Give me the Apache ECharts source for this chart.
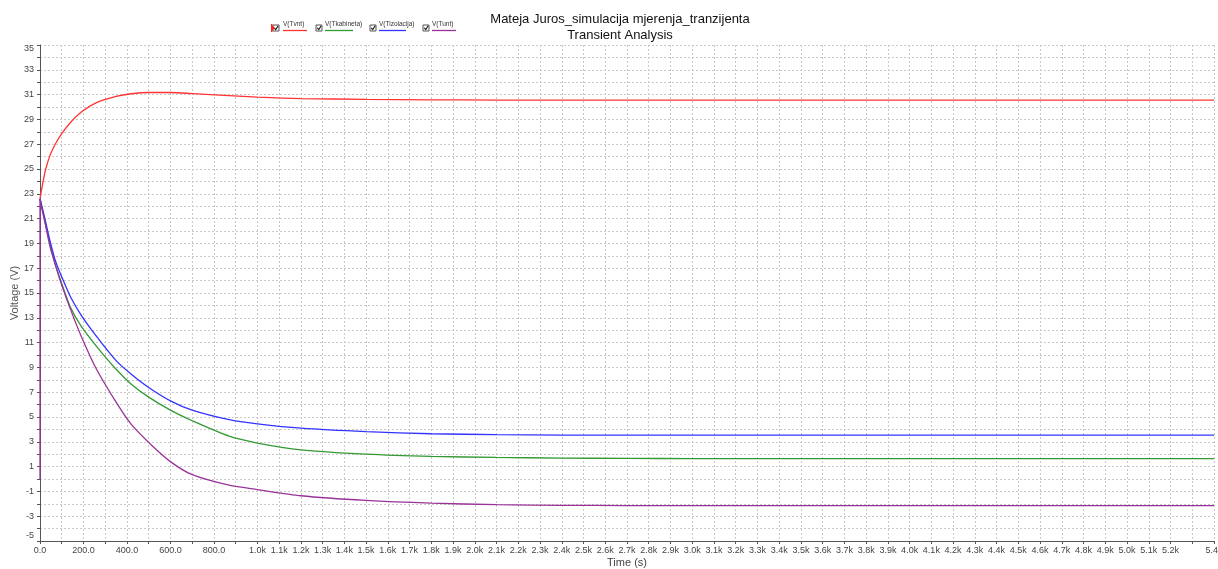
<!DOCTYPE html>
<html>
<head>
<meta charset="utf-8">
<script src="https://cdn.jsdelivr.net/npm/echarts@6/dist/echarts.min.js"></script>
<style>
  html, body { margin: 0; padding: 0; background: #fff; }
  #chart { width: 1218px; height: 569px; }
</style>
</head>
<body>
<div id="chart"></div>
<script>
// time points (s) and node voltages (V)
const time        = [0, 10, 25, 46, 70, 100, 140, 190, 260, 350, 420, 500, 600, 700, 870, 1000, 1200, 1500, 1800, 2100, 2400, 2700, 3000, 4000, 5400];
const vTvnt       = [22.6, 23.6, 24.9, 26.1, 27.0, 27.85, 28.75, 29.6, 30.35, 30.85, 31.07, 31.17, 31.17, 31.08, 30.92, 30.8, 30.68, 30.62, 30.58, 30.56, 30.55, 30.55, 30.55, 30.55, 30.55];
const vTkabineta  = [22.6, 21.8, 20.6, 19.0, 17.35, 15.75, 13.85, 12.3, 10.7, 8.85, 7.65, 6.6, 5.55, 4.7, 3.45, 2.9, 2.35, 2.0, 1.82, 1.74, 1.69, 1.66, 1.65, 1.65, 1.65];
const vTizolacija = [22.6, 21.9, 20.8, 19.2, 17.65, 16.3, 14.7, 13.2, 11.5, 9.55, 8.45, 7.38, 6.3, 5.55, 4.78, 4.45, 4.1, 3.82, 3.65, 3.58, 3.54, 3.54, 3.54, 3.54, 3.54];
const vTunt       = [22.6, 21.7, 20.5, 18.75, 17.3, 15.65, 13.7, 11.5, 8.85, 6.2, 4.4, 2.95, 1.4, 0.35, -0.5, -0.85, -1.35, -1.73, -1.95, -2.07, -2.12, -2.14, -2.14, -2.14, -2.14];
// V(Tunt) also has a jump at t=0 drawn along the y axis
const tuntJump    = [0, 22.6];

const names  = ['V(Tvnt)', 'V(Tkabineta)', 'V(Tizolacija)', 'V(Tunt)'];
const colors = ['#ff3333', '#339933', '#3333ff', '#993399'];

const chart = echarts.init(document.getElementById('chart'));

function pairs(vals) {
  return time.map((t, i) => [t, vals[i]]);
}

function fmtTime(v) {
  v = Math.round(v);
  if (v < 1000) return v % 200 === 0 ? v.toFixed(1) : '';
  if (v === 5300) return '';
  return (v / 1000).toFixed(1) + 'k';
}

function fmtVolt(v) {
  v = Math.round(v);
  if (Math.abs(v) % 2 !== 1) return '';
  if (v === 35) return '{top|35}';
  if (v === -5) return '{bot|-5}';
  return String(v);
}

// legend drawn by hand (checkbox + small label + line sample)
const legendX = [[273, 283, 307], [316, 325, 353], [370, 379, 406], [423, 432, 456]];
const legendItems = [];
legendX.forEach((p, i) => {
  legendItems.push(
    { type: 'rect', shape: { x: p[0], y: 25, width: 6, height: 6 }, style: { fill: '#fff', stroke: '#555', lineWidth: 1 } },
    { type: 'polyline', shape: { points: [[p[0] + 1.2, 27.8], [p[0] + 2.8, 29.6], [p[0] + 5.2, 25.8]] }, style: { stroke: '#222', lineWidth: 1.2, fill: null } },
    { type: 'text', x: p[1], y: 21, style: { text: names[i], fontSize: 6.5, fill: '#333', fontFamily: 'Liberation Sans, Arial, sans-serif' } },
    { type: 'line', shape: { x1: p[1], y1: 30.5, x2: p[2], y2: 30.5 }, style: { stroke: colors[i], lineWidth: 1.3 } }
  );
});
// red marker in front of the first item
legendItems.push(
  { type: 'rect', shape: { x: 271, y: 24, width: 1.5, height: 8 }, style: { fill: '#ff2020' } },
  { type: 'polygon', shape: { points: [[272, 25.5], [275, 28], [272, 30.5]] }, style: { fill: '#ff2020' } }
);

const option = {
  backgroundColor: '#fff',
  animation: false,
  textStyle: { fontFamily: 'Liberation Sans, Arial, sans-serif' },
  title: {
    text: 'Mateja Juros_simulacija mjerenja_tranzijenta\nTransient Analysis',
    left: 615,
    top: 6,
    textAlign: 'center',
    textStyle: { fontSize: 13, fontWeight: 'normal', color: '#111', lineHeight: 16 }
  },
  graphic: legendItems,
  grid: { left: 40, right: 4, top: 45, bottom: 28, outerBoundsMode: 'none', containLabel: false },
  xAxis: {
    type: 'value',
    min: 0,
    max: 5400,
    interval: 100,
    name: 'Time (s)',
    nameLocation: 'middle',
    nameGap: 16,
    nameMoveOverlap: false,
    nameTextStyle: { fontSize: 11, color: '#444' },
    axisLine: { onZero: false, lineStyle: { color: '#555' } },
    axisTick: { length: 3, lineStyle: { color: '#555' } },
    axisLabel: { fontSize: 9, color: '#444', margin: 5, formatter: fmtTime },
    splitLine: { show: true, lineStyle: { type: [2, 2], color: '#c8c8c8' } }
  },
  yAxis: {
    type: 'value',
    min: -5,
    max: 35,
    interval: 1,
    name: 'Voltage (V)',
    nameLocation: 'middle',
    nameGap: 20,
    nameMoveOverlap: false,
    nameTextStyle: { fontSize: 11, color: '#555' },
    axisLine: { show: true, onZero: false, lineStyle: { color: '#555' } },
    axisTick: { show: true, length: 3, lineStyle: { color: '#555' } },
    axisLabel: {
      fontSize: 9, color: '#444', margin: 6, formatter: fmtVolt,
      rich: {
        top: { fontSize: 9, color: '#444', padding: [8, 0, 0, 0] },
        bot: { fontSize: 9, color: '#444', padding: [0, 0, 10, 0] }
      }
    },
    splitLine: { show: true, lineStyle: { type: [2, 2], color: '#c8c8c8' } }
  },
  series: [
    { name: names[0], data: pairs(vTvnt), color: colors[0] },
    { name: names[1], data: pairs(vTkabineta), color: colors[1] },
    { name: names[2], data: pairs(vTizolacija), color: colors[2] },
    { name: names[3], data: pairs(vTunt), color: colors[3] },
    { name: names[3] + ' jump', data: [[0, tuntJump[0]], [0, tuntJump[1]]], color: colors[3], smooth: false }
  ].map(s => Object.assign({
    type: 'line',
    showSymbol: false,
    smooth: 0.25,
    lineStyle: { width: 1.3 },
    emphasis: { disabled: true }
  }, s))
};

option && chart.setOption(option);
</script>
</body>
</html>
